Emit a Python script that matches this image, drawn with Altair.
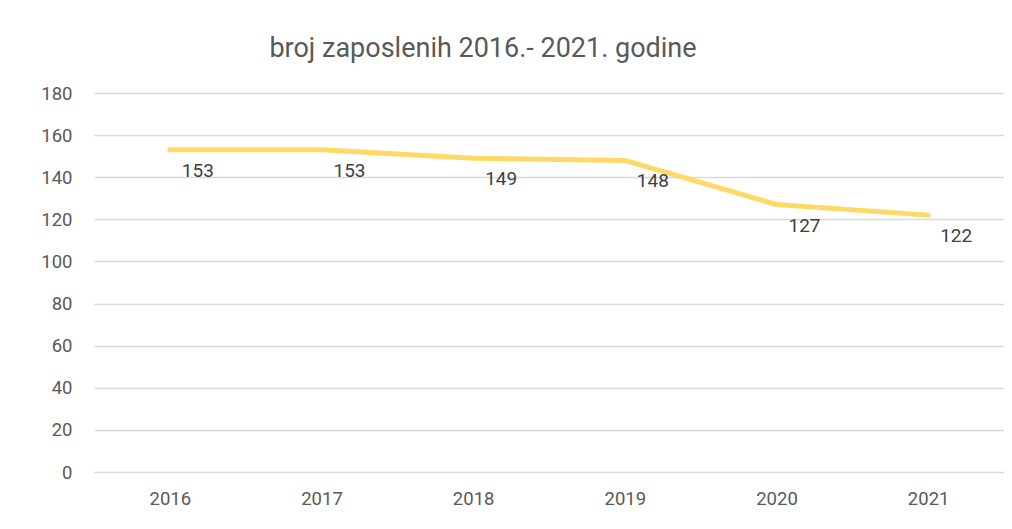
import altair as alt
import pandas as pd

years = ["2016", "2017", "2018", "2019", "2020", "2021"]
employees = [153, 153, 149, 148, 127, 122]
chart_title = "broj zaposlenih 2016.- 2021. godine"

df = pd.DataFrame({"godina": years, "broj": employees})

FONT = "Roboto"
LINE_COLOR = "#FFD966"
TEXT_COLOR = "#595959"

base = alt.Chart(df).encode(
    x=alt.X("godina:O", sort=years,
            scale=alt.Scale(type="point", padding=0.5),
            axis=alt.Axis(title=None, labelAngle=0, domain=False, ticks=False,
                          labelPadding=17, labelFontSize=18.5, labelColor=TEXT_COLOR,
                          labelFont=FONT, grid=False)),
    y=alt.Y("broj:Q", scale=alt.Scale(domain=[0, 180], nice=False),
            axis=alt.Axis(title=None, values=list(range(0, 181, 20)), domain=False,
                          ticks=False, labelPadding=22, labelFontSize=18.5,
                          labelColor=TEXT_COLOR, labelFont=FONT,
                          grid=True, gridColor="#D9D9D9", gridWidth=1.5)),
)

line = base.mark_line(color=LINE_COLOR, strokeWidth=5, strokeCap="round", strokeJoin="round")
labels = base.mark_text(dx=28, dy=21, fontSize=19, font=FONT, color="#404040").encode(
    text="broj:Q"
)

title_df = pd.DataFrame({"t": [chart_title]})
title_mark = alt.Chart(title_df).mark_text(
    font=FONT, fontSize=27, color=TEXT_COLOR, align="center", baseline="alphabetic"
).encode(text="t:N", x=alt.value(389), y=alt.value(-36))

chart = (title_mark + line + labels).properties(
    width=910,
    height=379,
    padding={"left": 86, "top": 85, "right": 0, "bottom": 45},
    autosize=alt.AutoSizeParams(type="none"),
    background="white",
).configure_view(strokeWidth=0)

chart.save("out.html", embed_options={"renderer": "svg", "actions": False})
